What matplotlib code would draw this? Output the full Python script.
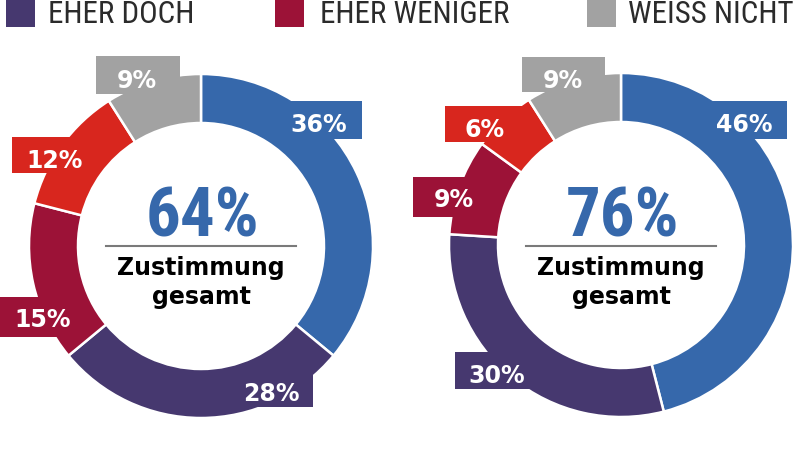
import matplotlib.pyplot as plt
from matplotlib.patches import Rectangle

# Bildgroesse in Pixeln (dpi 100)
W, H = 800, 452

kategorien = ["JA SICHER", "EHER DOCH", "EHER WENIGER", "NEIN SICHER", "WEISS NICHT"]
farben = ["#3668ab", "#46386f", "#9c1237", "#d8261e", "#a2a2a2"]

werte_links = [36, 28, 15, 12, 9]
werte_rechts = [46, 30, 9, 6, 9]
gesamt_links = "64%"
gesamt_rechts = "76%"

legende = ["EHER DOCH", "EHER WENIGER", "WEISS NICHT"]
legende_farben = [farben[1], farben[2], farben[4]]

# Layout (Pixel, y von oben)
mitte_links = (201, 247)
mitte_rechts = (621, 246)
R_aussen, R_breite = 172, 49

# Etikettenkaesten: (x0, x1, y0, y1), Textposition (x, Grundlinie)
kaesten_links = [(280, 362, 102, 140), (232, 313, 372, 408), (-5, 80, 298, 338),
                 (12, 95, 138, 174), (96, 180, 57, 95)]
text_links = [(319, 132), (271, 401), (43, 327), (55, 168), (137, 88)]
kaesten_rechts = [(710, 787, 102, 140), (455, 540, 353, 390), (413, 495, 178, 218),
                  (445, 525, 107, 143), (522, 605, 58, 93)]
text_rechts = [(744, 132), (497, 383), (454, 207), (485, 137), (563, 88)]

schmal = ["Roboto Condensed", "Roboto", "DejaVu Sans"]


def Y(y):
    return H - y


fig = plt.figure(figsize=(W / 100, H / 100), dpi=100)
ax = fig.add_axes([0, 0, 1, 1])


def donut(werte, mitte, kaesten, texte, gesamt):
    ax.pie(werte, colors=farben, startangle=90, counterclock=False,
           center=(mitte[0], Y(mitte[1])), radius=R_aussen,
           wedgeprops=dict(width=R_breite, edgecolor="white", linewidth=1.8))
    for w, (x0, x1, y0, y1), (tx, ty), c in zip(werte, kaesten, texte, farben):
        ax.add_patch(Rectangle((x0, Y(y1)), x1 - x0, y1 - y0, facecolor=c,
                               edgecolor="none", zorder=2))
        ax.text(tx, Y(ty), f"{w}%", color="white", fontsize=17, fontweight="bold",
                ha="center", va="baseline", zorder=3)
    cx, cy = mitte
    ax.text(cx + 1, Y(237), gesamt, color=farben[0], fontsize=49.5, fontweight="bold",
            family=schmal, ha="center", va="baseline", zorder=3)
    ax.plot([cx - 95, cx + 95], [Y(247), Y(247)], color="#7a7a7a", lw=1.5, zorder=3)
    ax.text(cx, Y(275), "Zustimmung", color="black", fontsize=17, fontweight="bold",
            ha="center", va="baseline", zorder=3)
    ax.text(cx, Y(304), "gesamt", color="black", fontsize=17, fontweight="bold",
            ha="center", va="baseline", zorder=3)


donut(werte_links, mitte_links, kaesten_links, text_links, gesamt_links)
donut(werte_rechts, mitte_rechts, kaesten_rechts, text_rechts, gesamt_rechts)

# Legende
for name, c, qx, tx in zip(legende, legende_farben, [6, 275, 587], [48, 320, 628]):
    ax.add_patch(Rectangle((qx, Y(28)), 29, 34, facecolor=c, edgecolor="none"))
    ax.text(tx, Y(23), name, color="#2b2b2b", fontsize=22.3, family=schmal,
            fontweight="normal", ha="left", va="baseline")

ax.set_xlim(0, W)
ax.set_ylim(0, H)
ax.set_aspect("equal")
ax.axis("off")

fig.savefig("out.png", dpi=100, facecolor="white")
